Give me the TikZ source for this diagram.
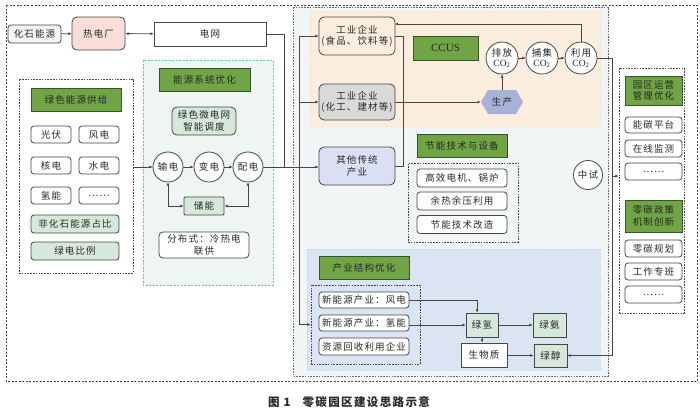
\documentclass[tikz,border=0pt]{standalone}
\usepackage{fontspec}
\setmainfont{Noto Sans CJK SC}[LetterSpace=12]
\newfontfamily\tms{Liberation Serif}
\usetikzlibrary{arrows.meta,calc}
\definecolor{lineC}{RGB}{70,70,70}
\definecolor{txtC}{RGB}{40,40,40}
\definecolor{hdrG}{RGB}{112,165,70}
\definecolor{hdrB}{RGB}{55,85,40}
\definecolor{lgreen}{RGB}{214,232,218}
\definecolor{pinkF}{RGB}{248,222,214}
\definecolor{peachF}{RGB}{252,238,222}
\definecolor{peachB}{RGB}{245,225,200}
\definecolor{grayF}{RGB}{217,217,217}
\definecolor{blueBox}{RGB}{218,224,243}
\definecolor{blueF}{RGB}{219,228,243}
\definecolor{blueB}{RGB}{200,215,238}
\definecolor{hexF}{RGB}{168,178,214}
\definecolor{midF}{RGB}{241,245,245}
\definecolor{tealF}{RGB}{238,245,242}
\definecolor{tealB}{RGB}{125,190,155}
\definecolor{fsF}{RGB}{244,244,244}
\begin{document}
\begin{tikzpicture}[x=1pt,y=-1pt,
  txt/.style={font=\fontsize{9.5}{11.5}\selectfont, text=txtC, align=center, inner sep=0pt},
  box/.style={txt, draw=lineC, line width=0.8pt, rounded corners=3pt, fill=white},
  lg/.style={box, fill=lgreen},
  hdr/.style={txt, draw=hdrB, line width=1pt, fill=hdrG},
  circ/.style={txt, circle, draw=lineC, line width=0.8pt, fill=white, inner sep=0pt},
  dbox/.style={draw=lineC, dash pattern=on 1.6pt off 1.2pt, line width=0.8pt, inner sep=0pt},
  conn/.style={draw=lineC, line width=0.8pt},
  arr/.style={conn, -{Latex[length=3.2pt,width=3pt]}},
  darr/.style={conn, {Latex[length=3.2pt,width=3pt]}-{Latex[length=3.2pt,width=3pt]}}
]
\useasboundingbox (0,0) rectangle (700,410);
\fill[white] (0,0) rectangle (700,410);

% outer frame
\draw[lineC, dash pattern=on 2pt off 1.5pt, line width=0.9pt] (6,5) rectangle (697,381);

% middle big region
\draw[fill=midF, draw=lineC!80, dash pattern=on 1.6pt off 1.2pt, line width=0.7pt] (293,7) rectangle (608,376);
\draw[fill=peachF, draw=peachB, dash pattern=on 1.6pt off 1.2pt, line width=0.6pt] (310,11) rectangle (600,126);
\draw[fill=blueF, draw=blueB, dash pattern=on 1.6pt off 1.2pt, line width=0.6pt] (307,249) rectangle (600,370);

% energy system region
\draw[fill=tealF, draw=tealB, dash pattern=on 2pt off 1.5pt, line width=0.8pt] (143,60) rectangle (273,285);

% dashed group boxes
\node[dbox, minimum width=114, minimum height=194] (lbox) at (76,176) {};
\node[dbox, minimum width=110, minimum height=79] (jbox) at (463,202.5) {};
\node[dbox, minimum width=109, minimum height=79] (cyb) at (365.5,324.5) {};
\node[dbox, minimum width=65, minimum height=245] (rbox) at (651.5,190.5) {};

% top row
\node[box, fill=fsF, minimum width=53, minimum height=18] (hs) at (34.5,34) {化石能源};
\node[box, fill=pinkF, rounded corners=5pt, minimum width=53, minimum height=33] (rdc) at (98.5,33.5) {热电厂};
\node[box, rounded corners=0pt, minimum width=112, minimum height=24] (dw) at (210,34) {电网};

% green energy supply
\node[hdr, minimum width=90, minimum height=23] (h1) at (76,99.5) {绿色能源供给};
\node[box, minimum width=40, minimum height=17] (gf) at (51,134.5) {光伏};
\node[box, minimum width=40, minimum height=17] (fd1) at (99,134.5) {风电};
\node[box, minimum width=40, minimum height=17] (hd) at (51,165.5) {核电};
\node[box, minimum width=40, minimum height=17] (sd) at (99,165.5) {水电};
\node[box, minimum width=40, minimum height=17] (qn1) at (51,195.5) {氢能};
\node[box, minimum width=40, minimum height=17] (dd1) at (99,195.5) {……};
\node[lg, minimum width=88, minimum height=18] (fhs) at (75,224) {非化石能源占比};
\node[lg, minimum width=88, minimum height=18] (ldbl) at (75,251) {绿电比例};

% energy system optimisation
\node[hdr, minimum width=91, minimum height=23] (h2) at (204.5,79.5) {能源系统优化};
\node[lg, rounded corners=5pt, minimum width=64, minimum height=28] (wdw) at (204,121) {绿色微电网\\智能调度};
\node[circ, minimum size=30pt] (shu) at (168,167) {输电};
\node[circ, minimum size=30pt] (bian) at (209,167) {变电};
\node[circ, minimum size=30pt] (pei) at (248,167) {配电};
\node[lg, rounded corners=1pt, minimum width=40, minimum height=18] (cn) at (204,206) {储能};
\node[box, rounded corners=4pt, minimum width=90, minimum height=26] (fbs) at (204,245) {分布式：冷热电\\联供};

% CCUS area
\node[box, fill=peachF, rounded corners=5pt, minimum width=76, minimum height=38] (gy1) at (357,36) {工业企业\\(食品、饮料等)};
\node[box, fill=grayF, rounded corners=5pt, minimum width=76, minimum height=36] (gy2) at (357,102) {工业企业\\(化工、建材等)};
\node[hdr, minimum width=65, minimum height=24, font=\tms\fontsize{11}{13}\selectfont] (ccus) at (445.5,48) {CCUS};
\node[circ, minimum size=32pt] (pf) at (502,58) {排放\\[-1pt]{\tms CO\textsubscript{2}}};
\node[circ, minimum size=32pt] (bj) at (542,58) {捕集\\[-1pt]{\tms CO\textsubscript{2}}};
\node[circ, minimum size=32pt] (ly) at (581,58) {利用\\[-1pt]{\tms CO\textsubscript{2}}};
\fill[hexF] (481,102) -- (488,90) -- (516,90) -- (523,102) -- (516,114) -- (488,114) -- cycle;
\node[txt, minimum width=42, minimum height=24] (sc) at (502,102) {生产};

% other traditional industry
\node[box, fill=blueBox, rounded corners=5pt, minimum width=76, minimum height=38] (qt) at (357,166) {其他传统\\产业};

% energy saving
\node[hdr, minimum width=90, minimum height=23] (h3) at (462,145.5) {节能技术与设备};
\node[box, minimum width=90, minimum height=18] (gx) at (462,178) {高效电机、锅炉};
\node[box, minimum width=90, minimum height=18] (yr) at (462,201) {余热余压利用};
\node[box, minimum width=90, minimum height=18] (jn) at (462,224.5) {节能技术改造};
\node[circ, minimum size=29pt] (zs) at (588,175) {中试};

% industrial structure
\node[hdr, minimum width=90, minimum height=23] (h4) at (364,267.5) {产业结构优化};
\node[box, minimum width=90, minimum height=16] (fd) at (364,300) {新能源产业：风电};
\node[box, minimum width=90, minimum height=16] (qn) at (364,323) {新能源产业：氢能};
\node[box, minimum width=90, minimum height=17] (zy) at (364,346.5) {资源回收利用企业};
\node[lg, rounded corners=0pt, minimum width=32, minimum height=24] (lq) at (482,325) {绿氢};
\node[lg, rounded corners=0pt, minimum width=33, minimum height=24] (la) at (549.5,325) {绿氨};
\node[box, rounded corners=0pt, minimum width=46, minimum height=24] (sw) at (484,355) {生物质};
\node[lg, rounded corners=0pt, minimum width=33, minimum height=23] (lc) at (550.5,355.5) {绿醇};

% right column
\node[hdr, minimum width=57, minimum height=29] (h5) at (653.5,90.5) {园区运营\\管理优化};
\node[box, minimum width=57, minimum height=16] (nt) at (653.5,125) {能碳平台};
\node[box, minimum width=57, minimum height=17] (zx) at (653.5,148.5) {在线监测};
\node[box, minimum width=57, minimum height=17] (dd2) at (653.5,171.5) {……};
\node[hdr, minimum width=57, minimum height=32] (h6) at (653.5,216) {零碳政策\\机制创新};
\node[box, minimum width=57, minimum height=17] (gh) at (653.5,248.5) {零碳规划};
\node[box, minimum width=57, minimum height=17] (zb) at (653.5,271.5) {工作专班};
\node[box, minimum width=57, minimum height=17] (dd3) at (653.5,294.5) {……};

% caption
\node[font=\fontsize{11.5}{13}\selectfont\bfseries, text=txtC, inner sep=0pt] (cap) at (349,402) {图 1\hspace{12pt}零碳园区建设思路示意};

% connectors
\coordinate (j1) at (284,167);
\coordinate (j2) at (299,167);
\coordinate (c1) at (395,24);
\coordinate (r1) at (612,176);

\draw[arr] (hs) -- (rdc);
\draw[darr] (rdc) -- (dw);
\draw[conn] (dw.east) -| (j1);
\draw[arr] (lbox.east |- shu.west) -- (shu.west);
\draw[arr] (shu) -- (bian);
\draw[arr] (bian) -- (pei);
\draw[darr] (shu.south) |- (cn.west);
\draw[darr] (pei.south) |- (cn.east);
\draw[arr] (pei.east) -- (pei.east -| qt.west);
\draw[arr] (j2) |- (gy1.west);
\draw[arr] (j2) |- (gy2.west);
\draw[arr] (j2) |- (cyb.west);
\draw[conn] (gy1.east) -- ++(8,0) |- (qt.east);
\draw[arr] (gy2.east) -- (sc.west);
\draw[arr] (sc.north) -- (pf.south);
\draw[arr] (pf) -- (bj);
\draw[arr] (bj) -- (ly);
\draw[arr] (ly.north) |- (c1);
\draw[conn] (ly.east) -| (r1);
\draw[arr] (r1) |- (lc.east);
\draw[arr] (r1) -- (rbox.west |- r1);
\draw[arr] (fd.east) -| ($(lq.north)+(-5,0)$);
\draw[arr] (qn.east |- lq.west) -- (lq.west);
\draw[arr] (lq) -- (la);
\draw[arr] (lq.south) -- (lq.south |- sw.north);
\draw[arr] (sw.east |- lc.west) -- (lc.west);
\end{tikzpicture}
\end{document}
